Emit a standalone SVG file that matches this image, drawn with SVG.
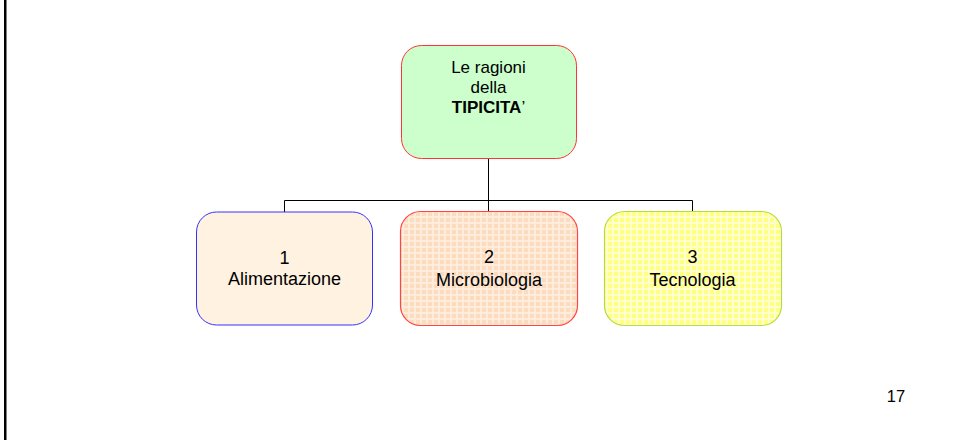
<svg xmlns="http://www.w3.org/2000/svg" width="957" height="440" viewBox="0 0 957 440">
<defs>
<pattern id="pPeach" width="6" height="6" patternUnits="userSpaceOnUse">
<rect width="6" height="6" fill="#FCDCBE"/>
<rect x="0" y="0" width="6" height="2" fill="#FEEBDA"/>
<rect x="0" y="0" width="2" height="6" fill="#FEEBDA"/>
<rect x="0" y="0" width="1" height="1" fill="#FFF6EE"/>
</pattern>
<pattern id="pYellow" width="6" height="6" patternUnits="userSpaceOnUse">
<rect width="6" height="6" fill="#FFFF85"/>
<rect x="0" y="0" width="6" height="2" fill="#FFFFC8"/>
<rect x="0" y="0" width="2" height="6" fill="#FFFFC8"/>
<rect x="0" y="0" width="1" height="1" fill="#FFFFEE"/>
</pattern>
</defs>
<style>
text{font-family:"Liberation Sans",Arial,sans-serif;fill:#000;text-anchor:middle}
.t{font-size:17px}
.b{font-size:18px}
.c{stroke:#000;stroke-width:1;fill:none}
</style>
<rect width="957" height="440" fill="#fff"/>
<rect x="4" y="0" width="2.5" height="440" fill="#000"/>
<g id="connectors">
<path class="c" d="M488.5 158V200.5M284.5 200.5H692.5M284.5 200.5V212M488.5 200.5V211M692.5 200.5V211"/>
</g>
<g id="node-top">
<rect x="401.5" y="45.5" width="175" height="113" rx="20" fill="#CCFFCC" stroke="#FF3333" stroke-width="1"/>
<text class="t" x="488.5" y="73">Le ragioni</text>
<text class="t" x="488.5" y="93">della</text>
<text class="t" x="488.5" y="113"><tspan font-weight="bold">TIPICITA</tspan>’</text>
</g>
<g id="node-1">
<rect x="196.5" y="212" width="176" height="113" rx="20" fill="#FFF2E0" stroke="#3333FF" stroke-width="1"/>
<text class="b" x="284.5" y="264">1</text>
<text class="b" x="284.5" y="285">Alimentazione</text>
</g>
<g id="node-2">
<rect x="400.5" y="211.5" width="177" height="114" rx="20" fill="url(#pPeach)" stroke="#FF4444" stroke-width="1.2"/>
<text class="b" x="489" y="263">2</text>
<text class="b" x="489" y="286">Microbiologia</text>
</g>
<g id="node-3">
<rect x="604.5" y="211.5" width="177" height="114" rx="20" fill="url(#pYellow)" stroke="#B8DC40" stroke-width="1.2"/>
<text class="b" x="692.5" y="263">3</text>
<text class="b" x="692.5" y="286">Tecnologia</text>
</g>
<text x="896" y="402" style="font-size:16.5px">17</text>
</svg>
